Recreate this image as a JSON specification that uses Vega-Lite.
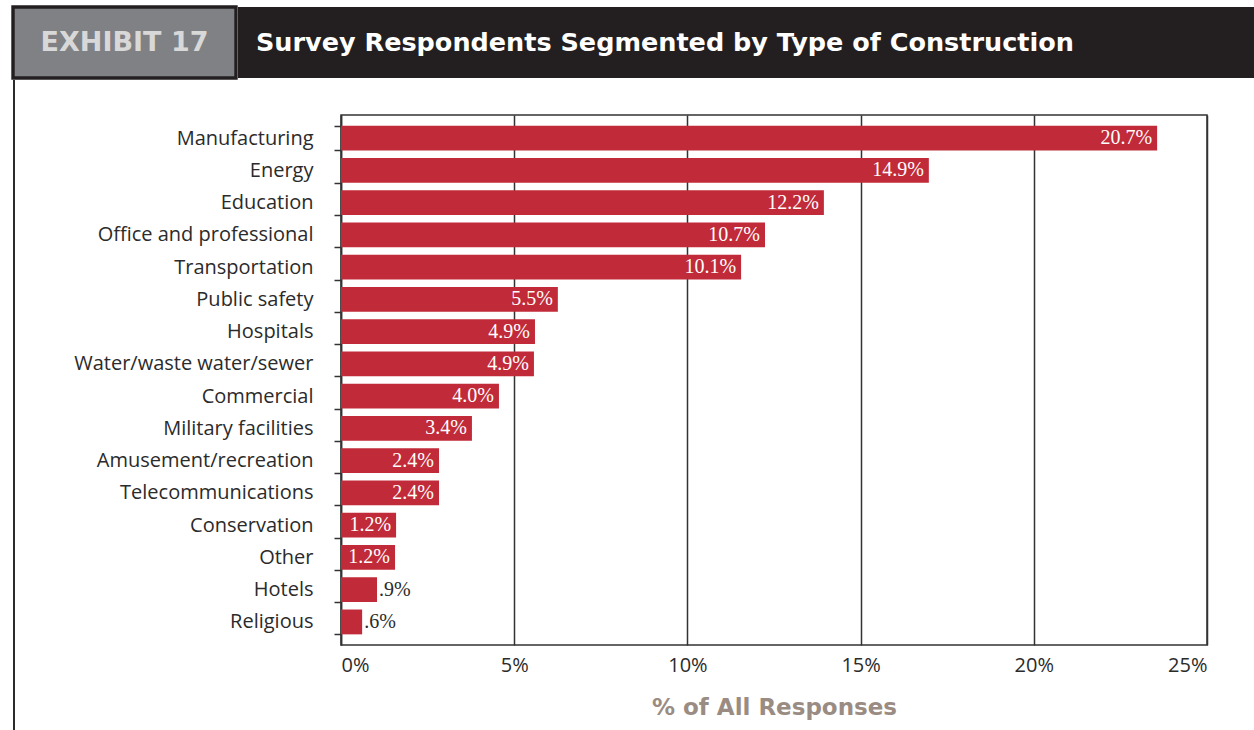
{
  "$schema": "https://vega.github.io/schema/vega-lite/v6.json",
  "background": "white",
  "padding": {"left": 11, "top": 5, "right": 0, "bottom": 0},
  "spacing": 0,
  "config": {"view": {"stroke": null}},
  "vconcat": [
    {
      "spacing": 0,
      "hconcat": [
        {
          "width": 223,
          "height": 71,
          "view": {"fill": "#808184", "stroke": "#231f20", "strokeWidth": 3.4},
          "data": {"values": [{"t": "EXHIBIT 17"}]},
          "mark": {"type": "text", "font": "DejaVu Sans", "fontWeight": "bold", "fontSize": 27, "color": "#d8d8d8", "baseline": "middle", "align": "center"},
          "encoding": {"text": {"field": "t"}}
        },
        {
          "width": 1020,
          "height": 71,
          "view": {"fill": "#231f20", "stroke": null},
          "data": {"values": [{"t": "Survey Respondents Segmented by Type of Construction"}]},
          "mark": {"type": "text", "font": "DejaVu Sans", "fontWeight": "bold", "fontSize": 25.5, "color": "#ffffff", "baseline": "middle", "align": "left"},
          "encoding": {"text": {"field": "t"}, "x": {"value": 18}}
        }
      ]
    },
    {
      "spacing": 0,
      "hconcat": [
        {
          "width": 2,
          "height": 652,
          "view": {"fill": "#2b2b2b", "stroke": null},
          "data": {"values": [{"t": ""}]},
          "mark": {"type": "text"},
          "encoding": {"text": {"field": "t"}}
        },
        {
          "spacing": 0,
          "vconcat": [
            {
              "width": 866,
              "height": 24,
              "data": {"values": [{"t": ""}]},
              "mark": {"type": "text"},
              "encoding": {"text": {"field": "t"}}
            },
            {
              "width": 866,
              "height": 530,
              "view": {"stroke": "#333333", "strokeWidth": 1.5},
              "data": {
                "values": [
                  {"category": "Manufacturing", "value": "20.7%", "bar": 23.56},
                  {"category": "Energy", "value": "14.9%", "bar": 16.97},
                  {"category": "Education", "value": "12.2%", "bar": 13.94},
                  {"category": "Office and professional", "value": "10.7%", "bar": 12.24},
                  {"category": "Transportation", "value": "10.1%", "bar": 11.55},
                  {"category": "Public safety", "value": "5.5%", "bar": 6.26},
                  {"category": "Hospitals", "value": "4.9%", "bar": 5.6},
                  {"category": "Water/waste water/sewer", "value": "4.9%", "bar": 5.57},
                  {"category": "Commercial", "value": "4.0%", "bar": 4.56},
                  {"category": "Military facilities", "value": "3.4%", "bar": 3.78},
                  {"category": "Amusement/recreation", "value": "2.4%", "bar": 2.83},
                  {"category": "Telecommunications", "value": "2.4%", "bar": 2.83},
                  {"category": "Conservation", "value": "1.2%", "bar": 1.59},
                  {"category": "Other", "value": "1.2%", "bar": 1.56},
                  {"category": "Hotels", "value": ".9%", "bar": 1.04},
                  {"category": "Religious", "value": ".6%", "bar": 0.61}
                ]
              },
              "encoding": {
                "y": {
                  "field": "category",
                  "type": "nominal",
                  "sort": null,
                  "scale": {"paddingInner": 0.23, "paddingOuter": 0.33},
                  "axis": {
                    "title": null,
                    "tickBand": "extent",
                    "tickSize": 7,
                    "tickColor": "#333333",
                    "tickWidth": 1.5,
                    "domain": true,
                    "domainColor": "#333333",
                    "domainWidth": 1.5,
                    "labelFont": "Open Sans",
                    "labelFontSize": 20,
                    "labelColor": "#2b2b2b",
                    "labelPadding": 21,
                    "labelLimit": 400,
                    "minExtent": 325,
                    "grid": false
                  }
                },
                "x": {
                  "field": "bar",
                  "type": "quantitative",
                  "scale": {"domain": [0, 25], "nice": false},
                  "axis": {
                    "values": [0, 5, 10, 15, 20, 25],
                    "labelExpr": "datum.value + '%'",
                    "grid": true,
                    "gridColor": "#333333",
                    "gridWidth": 1.5,
                    "gridOpacity": 1,
                    "ticks": false,
                    "domain": false,
                    "labelFont": "Open Sans",
                    "labelFontSize": 20,
                    "labelColor": "#2b2b2b",
                    "labelPadding": 10,
                    "title": "% of All Responses",
                    "titleFont": "DejaVu Sans",
                    "titleFontWeight": "bold",
                    "titleFontSize": 23,
                    "titleColor": "#9a8c82",
                    "titlePadding": 21
                  }
                }
              },
              "layer": [
                {"mark": {"type": "bar", "color": "#c12a38"}},
                {
                  "transform": [{"filter": "datum.bar > 1.2"}],
                  "mark": {"type": "text", "align": "right", "baseline": "middle", "dx": -5, "font": "Liberation Serif", "fontSize": 20, "color": "#ffffff"},
                  "encoding": {"text": {"field": "value"}}
                },
                {
                  "transform": [{"filter": "datum.bar <= 1.2"}],
                  "mark": {"type": "text", "align": "left", "baseline": "middle", "dx": 2, "font": "Liberation Serif", "fontSize": 20, "color": "#2b2b2b"},
                  "encoding": {"text": {"field": "value"}}
                }
              ]
            }
          ]
        }
      ]
    }
  ]
}
